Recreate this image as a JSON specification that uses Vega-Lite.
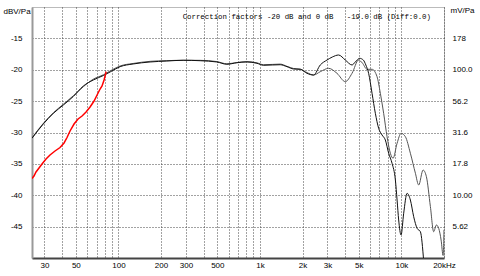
{
  "$schema": "https://vega.github.io/schema/vega-lite/v6.json",
  "width": 412,
  "height": 251,
  "autosize": {"type": "none"},
  "padding": {"left": 32, "top": 7, "right": 36, "bottom": 18},
  "background": "white",
  "config": {
    "view": {"stroke": "#777", "strokeDash": [1, 1]},
    "font": "Liberation Sans",
    "axis": {"labelFontSize": 8, "labelColor": "#000", "titleFontSize": 8, "titleFontWeight": "normal", "titleColor": "#000", "ticks": false, "labelOverlap": false, "labelFlush": false, "gridColor": "#444", "gridDash": [1, 2], "gridWidth": 1}
  },
  "title": {
    "text": "Correction factors -20 dB and 0 dB\u00a0\u00a0\u00a0-19.0 dB (Diff:0.0)",
    "anchor": "end",
    "frame": "group",
    "orient": "top",
    "offset": -18,
    "baseline": "middle",
    "dx": -13,
    "font": "Liberation Mono",
    "fontSize": 7.4,
    "fontWeight": "normal",
    "color": "#000"
  },
  "datasets": {
    "curves": [
      {"s": "B", "f": 24.5, "db": -30.85},
      {"s": "B", "f": 29.45, "db": -28.55},
      {"s": "B", "f": 34.7, "db": -26.85},
      {"s": "B", "f": 40.8, "db": -25.5},
      {"s": "B", "f": 48.0, "db": -24.15},
      {"s": "B", "f": 56.5, "db": -22.7},
      {"s": "B", "f": 66.5, "db": -21.5},
      {"s": "B", "f": 78.3, "db": -20.8},
      {"s": "B", "f": 87.3, "db": -20.2},
      {"s": "B", "f": 102.8, "db": -19.4},
      {"s": "B", "f": 127, "db": -19.0},
      {"s": "B", "f": 167.5, "db": -18.66},
      {"s": "B", "f": 219.8, "db": -18.55},
      {"s": "B", "f": 286.7, "db": -18.49},
      {"s": "B", "f": 378, "db": -18.5},
      {"s": "B", "f": 496, "db": -18.7},
      {"s": "B", "f": 584, "db": -19.05},
      {"s": "B", "f": 688, "db": -18.85},
      {"s": "B", "f": 809, "db": -18.7},
      {"s": "B", "f": 953, "db": -18.9},
      {"s": "B", "f": 1061, "db": -19.2},
      {"s": "B", "f": 1222, "db": -19.15},
      {"s": "B", "f": 1392, "db": -19.1},
      {"s": "B", "f": 1553, "db": -19.45},
      {"s": "B", "f": 1729, "db": -19.8},
      {"s": "B", "f": 1928, "db": -19.9},
      {"s": "B", "f": 2151, "db": -20.45},
      {"s": "B", "f": 2394, "db": -20.84},
      {"s": "B", "f": 2671, "db": -20.31},
      {"s": "B", "f": 3058, "db": -19.77},
      {"s": "B", "f": 3506, "db": -20.57},
      {"s": "B", "f": 4013, "db": -21.9},
      {"s": "B", "f": 4477, "db": -20.57},
      {"s": "B", "f": 4984, "db": -18.45},
      {"s": "B", "f": 5295, "db": -18.92},
      {"s": "B", "f": 5716, "db": -19.93},
      {"s": "B", "f": 6201, "db": -19.93},
      {"s": "B", "f": 6728, "db": -21.11},
      {"s": "B", "f": 7098, "db": -23.75},
      {"s": "B", "f": 7490, "db": -26.94},
      {"s": "B", "f": 7918, "db": -30.67},
      {"s": "B", "f": 8355, "db": -33.31},
      {"s": "B", "f": 8730, "db": -34.11},
      {"s": "B", "f": 9320, "db": -31.72},
      {"s": "B", "f": 9945, "db": -30.13},
      {"s": "B", "f": 10667, "db": -30.67},
      {"s": "B", "f": 11574, "db": -33.31},
      {"s": "B", "f": 12559, "db": -36.5},
      {"s": "B", "f": 13247, "db": -38.37},
      {"s": "B", "f": 14230, "db": -35.98},
      {"s": "B", "f": 15019, "db": -37.04},
      {"s": "B", "f": 16030, "db": -41.82},
      {"s": "B", "f": 16910, "db": -45.81},
      {"s": "B", "f": 17671, "db": -44.74},
      {"s": "B", "f": 18348, "db": -45.27},
      {"s": "B", "f": 19080, "db": -47.13},
      {"s": "B", "f": 19711, "db": -49.6},
      {"s": "B", "f": 20000, "db": -45.5},
      {"s": "A", "f": 24.5, "db": -30.92},
      {"s": "A", "f": 29.45, "db": -28.65},
      {"s": "A", "f": 34.7, "db": -26.94},
      {"s": "A", "f": 40.8, "db": -25.62},
      {"s": "A", "f": 48.0, "db": -24.26},
      {"s": "A", "f": 56.5, "db": -22.59},
      {"s": "A", "f": 66.5, "db": -21.63},
      {"s": "A", "f": 78.3, "db": -20.92},
      {"s": "A", "f": 87.3, "db": -20.36},
      {"s": "A", "f": 102.8, "db": -19.51},
      {"s": "A", "f": 127, "db": -19.08},
      {"s": "A", "f": 167.5, "db": -18.76},
      {"s": "A", "f": 219.8, "db": -18.61},
      {"s": "A", "f": 286.7, "db": -18.49},
      {"s": "A", "f": 378, "db": -18.56},
      {"s": "A", "f": 496, "db": -18.76},
      {"s": "A", "f": 584, "db": -19.13},
      {"s": "A", "f": 688, "db": -18.88},
      {"s": "A", "f": 809, "db": -18.76},
      {"s": "A", "f": 953, "db": -18.97},
      {"s": "A", "f": 1061, "db": -19.29},
      {"s": "A", "f": 1222, "db": -19.24},
      {"s": "A", "f": 1392, "db": -19.2},
      {"s": "A", "f": 1553, "db": -19.51},
      {"s": "A", "f": 1729, "db": -19.88},
      {"s": "A", "f": 1928, "db": -19.93},
      {"s": "A", "f": 2151, "db": -20.57},
      {"s": "A", "f": 2394, "db": -20.84},
      {"s": "A", "f": 2671, "db": -19.24},
      {"s": "A", "f": 2979, "db": -18.45},
      {"s": "A", "f": 3249, "db": -17.97},
      {"s": "A", "f": 3599, "db": -17.65},
      {"s": "A", "f": 4013, "db": -18.45},
      {"s": "A", "f": 4477, "db": -19.24},
      {"s": "A", "f": 4724, "db": -18.76},
      {"s": "A", "f": 5067, "db": -18.18},
      {"s": "A", "f": 5380, "db": -18.45},
      {"s": "A", "f": 5605, "db": -19.24},
      {"s": "A", "f": 5866, "db": -20.57},
      {"s": "A", "f": 6201, "db": -23.75},
      {"s": "A", "f": 6544, "db": -26.94},
      {"s": "A", "f": 6904, "db": -29.33},
      {"s": "A", "f": 7298, "db": -30.4},
      {"s": "A", "f": 7701, "db": -31.2},
      {"s": "A", "f": 8127, "db": -33.31},
      {"s": "A", "f": 8590, "db": -34.91},
      {"s": "A", "f": 9065, "db": -37.57},
      {"s": "A", "f": 9320, "db": -40.76},
      {"s": "A", "f": 9565, "db": -43.94},
      {"s": "A", "f": 9945, "db": -46.33},
      {"s": "A", "f": 10376, "db": -42.88},
      {"s": "A", "f": 10966, "db": -39.69},
      {"s": "A", "f": 11574, "db": -40.76},
      {"s": "A", "f": 12213, "db": -43.42},
      {"s": "A", "f": 12909, "db": -45.27},
      {"s": "A", "f": 13620, "db": -45.81},
      {"s": "A", "f": 14372, "db": -50.5},
      {"s": "R", "f": 24.5, "db": -37.33},
      {"s": "R", "f": 25.3, "db": -36.93},
      {"s": "R", "f": 26.15, "db": -36.29},
      {"s": "R", "f": 27.46, "db": -35.66},
      {"s": "R", "f": 28.83, "db": -35.02},
      {"s": "R", "f": 30.78, "db": -34.22},
      {"s": "R", "f": 32.84, "db": -33.59},
      {"s": "R", "f": 35.64, "db": -32.95},
      {"s": "R", "f": 38.66, "db": -32.39},
      {"s": "R", "f": 41.27, "db": -31.67},
      {"s": "R", "f": 43.32, "db": -30.8},
      {"s": "R", "f": 45.5, "db": -29.76},
      {"s": "R", "f": 48.56, "db": -28.65},
      {"s": "R", "f": 51.84, "db": -27.85},
      {"s": "R", "f": 55.33, "db": -27.37},
      {"s": "R", "f": 59.05, "db": -26.73},
      {"s": "R", "f": 63.02, "db": -25.94},
      {"s": "R", "f": 67.27, "db": -24.98},
      {"s": "R", "f": 70.65, "db": -24.02},
      {"s": "R", "f": 74.19, "db": -23.07},
      {"s": "R", "f": 76.6, "db": -22.59},
      {"s": "R", "f": 79.16, "db": -21.63},
      {"s": "R", "f": 81.1, "db": -20.68},
      {"s": "R", "f": 81.8, "db": -20.3}
    ]
  },
  "data": {"name": "curves"},
  "encoding": {
    "x": {"field": "f", "type": "quantitative", "scale": {"type": "log", "domain": [24.5, 20000], "nice": false},
      "axis": {"orient": "bottom", "title": "", "grid": true, "domainColor": "#444", "domainWidth": 2, "labelPadding": 3,
        "values": [30, 40, 50, 60, 70, 80, 90, 100, 200, 300, 400, 500, 600, 700, 800, 900, 1000, 2000, 3000, 4000, 5000, 6000, 7000, 8000, 9000, 10000, 20000],
        "labelExpr": "datum.value == 20000 ? '\u00a0\u00a0\u00a0\u00a020kHz' : (datum.value == 30 || datum.value == 50 || datum.value == 100 || datum.value == 200 || datum.value == 300 || datum.value == 500) ? '' + datum.value : (datum.value == 1000 || datum.value == 2000 || datum.value == 3000 || datum.value == 5000 || datum.value == 10000) ? (datum.value / 1000) + 'k' : ''"}}
  },
  "layer": [
    {
      "transform": [{"filter": "datum.s != 'R'"}],
      "mark": {"type": "line", "strokeWidth": 1, "clip": true, "interpolate": "monotone"},
      "encoding": {
        "y": {"field": "db", "type": "quantitative", "scale": {"domain": [-50, -10], "nice": false, "zero": false},
          "axis": {"title": "dBV/Pa", "titleAngle": 0, "titleX": -29, "titleY": 4, "titleAlign": "left", "titleBaseline": "middle",
            "grid": true, "domain": true, "domainColor": "#999", "domainWidth": 2, "labelPadding": 10,
            "values": [-45, -40, -35, -30, -25, -20, -15], "labelExpr": "'' + datum.value"}},
        "color": {"field": "s", "type": "nominal", "scale": {"domain": ["B", "A"], "range": ["#555555", "#111111"]}, "legend": null}
      }
    },
    {
      "transform": [{"filter": "datum.s == 'R'"}],
      "mark": {"type": "line", "strokeWidth": 1.5, "color": "#ff0000", "clip": true},
      "encoding": {
        "y": {"field": "db", "type": "quantitative", "scale": {"domain": [-50, -10], "nice": false, "zero": false},
          "axis": {"orient": "right", "title": "mV/Pa", "titleAngle": 0, "titleX": 6, "titleY": 3, "titleAlign": "left", "titleBaseline": "middle",
            "grid": false, "domain": false, "labelPadding": 8, "labelAlign": "left",
            "values": [-45, -40, -35, -30, -25, -20, -15],
            "labelExpr": "datum.value == -15 ? '178' : datum.value == -20 ? '100.0' : datum.value == -25 ? '56.2' : datum.value == -30 ? '31.6' : datum.value == -35 ? '17.8' : datum.value == -40 ? '10.00' : '5.62'"}}
      }
    },
    {
      "data": {"values": [{"t": "IMHS"}]},
      "mark": {"type": "text", "angle": 90, "align": "center", "baseline": "middle", "font": "Liberation Mono", "fontSize": 9, "color": "#888"},
      "encoding": {
        "x": {"datum": 17822, "type": "quantitative"},
        "y": {"datum": -12.4, "type": "quantitative", "scale": {"domain": [-50, -10], "nice": false, "zero": false}, "axis": null},
        "text": {"field": "t", "type": "nominal"}
      }
    }
  ],
  "resolve": {"scale": {"y": "shared"}, "axis": {"y": "independent"}}
}
